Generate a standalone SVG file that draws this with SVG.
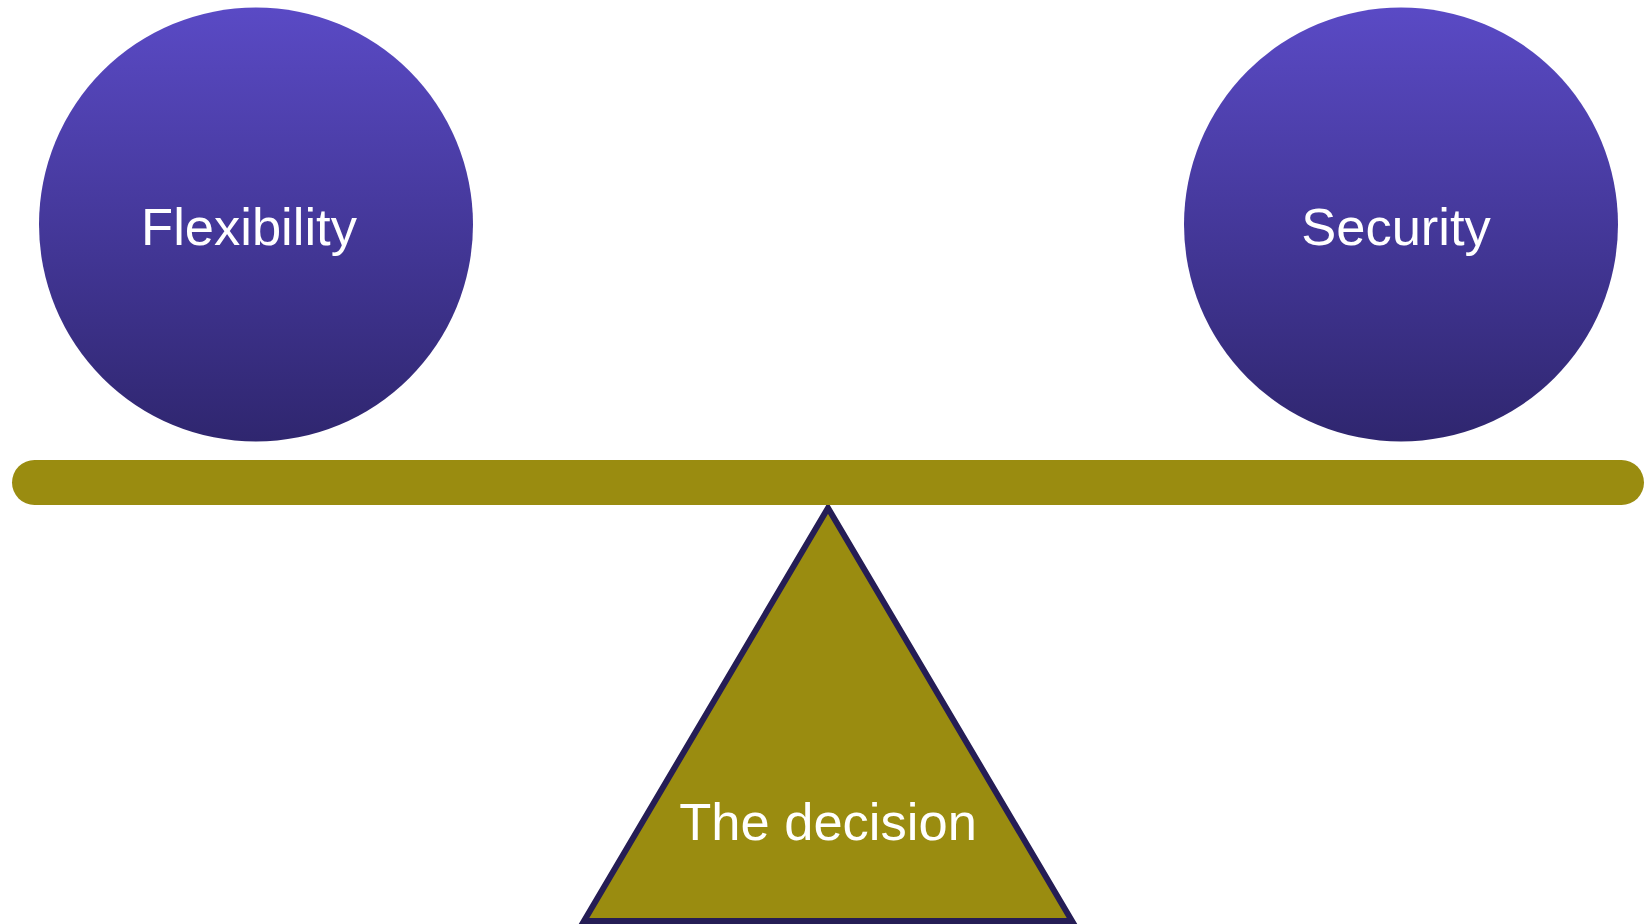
<svg xmlns="http://www.w3.org/2000/svg" width="1648" height="924" viewBox="0 0 1648 924">
<defs>
<linearGradient id="ball" x1="0" y1="0" x2="0" y2="1">
<stop offset="0" stop-color="#5a4ac5"/>
<stop offset="1" stop-color="#2f266f"/>
</linearGradient>
<style>
.lbl{font-family:"Liberation Sans",Arial,sans-serif;font-size:52.5px;fill:#ffffff;text-anchor:middle}
.olive{fill:#9a8c10}
</style>
</defs>
<rect width="1648" height="924" fill="#ffffff"/>
<g id="fulcrum">
<path d="M828,508 L584,921 L1072,921 Z" class="olive" stroke="#251d55" stroke-width="6" stroke-linejoin="miter"/>
<text class="lbl" x="828" y="840">The decision</text>
</g>
<g id="beam">
<rect x="12" y="460" width="1632" height="45" rx="22.5" ry="22.5" class="olive"/>
</g>
<g id="flexibility">
<circle cx="256" cy="224.5" r="217" fill="url(#ball)"/>
<text class="lbl" x="249" y="245">Flexibility</text>
</g>
<g id="security">
<circle cx="1401" cy="224.5" r="217" fill="url(#ball)"/>
<text class="lbl" x="1396" y="245">Security</text>
</g>
<g id="connectors"></g>
</svg>
